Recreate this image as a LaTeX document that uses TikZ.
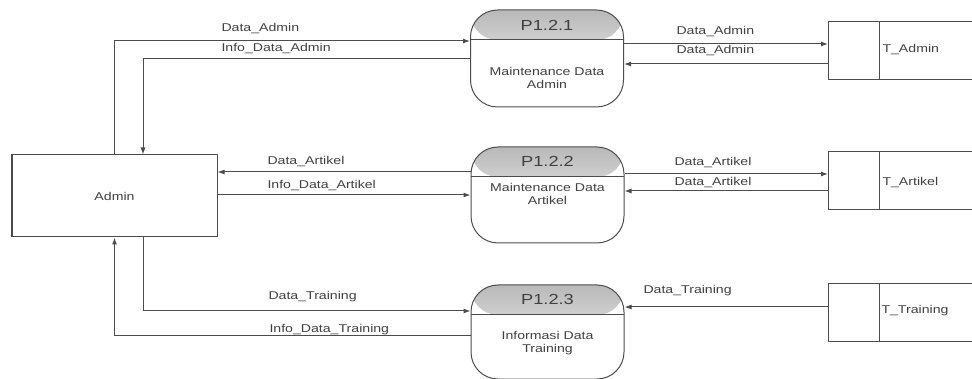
\documentclass[tikz,border=0pt]{standalone}
\usepackage{fontspec}
\setmainfont[FakeStretch=1.25]{Liberation Sans}
\usetikzlibrary{
		arrows.meta,
		calc
	}
\tikzset{
		>={Latex[length=7pt,width=5pt]}
	}

\begin{document}
\begin{tikzpicture}
		[x=1pt, y=-1pt, line width=1pt, black!70,
		every node/.style= {font=\fontsize{11.3}{13}\selectfont, text=black!75},
		flow/.style= {->, line width=1pt, black!70},
		lbl/.style= {anchor=west, inner sep=0pt},
		entity/.style= {draw, line width=1pt, minimum width=205pt, minimum height=82pt},
		proc/.style= {draw, rounded corners=27pt, minimum width=153pt, line width=1pt,
			path picture={
				\shade[top color=gray!55, bottom color=white] (path picture bounding box.north west) rectangle ([yshift=-30pt]path picture bounding box.north east);
				\draw[line width=1pt] ([yshift=-30pt]path picture bounding box.north west) -- ([yshift=-30pt]path picture bounding box.north east);
			}},
		title/.style= {font=\fontsize{14.6}{16}\selectfont, inner sep=0pt},
		body/.style= {align=center, inner sep=0pt},
		store/.style= {anchor=west, minimum width=144pt, minimum height=57pt, inner sep=0pt}
		]
		\useasboundingbox (0,0) rectangle (972,379);

		% external entity
		\node [entity] (admin) at (114.5,196) {Admin};
		\draw [line width=2pt] (admin.north west) -- (admin.south west);

		% processes
		\node [proc, minimum height=97pt] (p1) at (547,58.5) {};
			\node [title] (p1t) at (547,25) {P1.2.1};
			\node [body] (p1b) at (547,77.5) {Maintenance Data\\Admin};
		\node [proc, minimum height=96pt] (p2) at (547.5,195) {};
			\node [title] (p2t) at (547.5,161.5) {P1.2.2};
			\node [body] (p2b) at (547.5,193.5) {Maintenance Data\\Artikel};
		\node [proc, minimum height=94pt] (p3) at (547.5,332) {};
			\node [title] (p3t) at (547.5,299.5) {P1.2.3};
			\node [body] (p3b) at (547.5,343.5) {Informasi Data\\Training};

		% data stores
		\node [store] (sA) at (828,50.5) {};
		\node [store] (sB) at (828,181) {};
		\node [store] (sC) at (828,313) {};
		\draw (sA.north east) -- (sA.north west) -- (sA.south west) -- (sA.south east);
		\draw ([xshift=51pt]sA.north west) -- ([xshift=51pt]sA.south west);
		\draw (sB.north east) -- (sB.north west) -- (sB.south west) -- (sB.south east);
		\draw ([xshift=51pt]sB.north west) -- ([xshift=51pt]sB.south west);
		\draw (sC.north east) -- (sC.north west) -- (sC.south west) -- (sC.south east);
		\draw ([xshift=51pt]sC.north west) -- ([xshift=51pt]sC.south west);
		\node [lbl] (tA) at (882,50) {T\_Admin};
		\node [lbl] (tB) at (882,183) {T\_Artikel};
		\node [lbl] (tC) at (881,311) {T\_Training};

		% flows admin <-> processes
		\draw [flow] (admin.north) |- (p1.west |- 0,41);
		\draw [flow] (p1.west |- 0,59) -| (admin.north -| 143,0);
		\draw [flow] (p2.west |- 0,172) -- (admin.east |- 0,172);
		\draw [flow] (admin.east |- 0,195) -- (p2.west |- 0,195);
		\draw [flow] (admin.south -| 143,0) |- (p3.west |- 0,311);
		\draw [flow] (p3.west |- 0,336) -| (admin.south);

		\node [lbl] (l1) at (221,29) {Data\_Admin};
		\node [lbl] (l2) at (221,49) {Info\_Data\_Admin};
		\node [lbl] (l3) at (267,162) {Data\_Artikel};
		\node [lbl] (l4) at (267,186) {Info\_Data\_Artikel};
		\node [lbl] (l5) at (268,297) {Data\_Training};
		\node [lbl] (l6) at (269,330) {Info\_Data\_Training};

		% flows processes <-> stores
		\draw [flow] (p1.east |- 0,44) -- (sA.west |- 0,44);
		\draw [flow] (sA.west |- 0,64) -- (p1.east |- 0,64);
		\draw [flow] (p2.east |- 0,174) -- (sB.west |- 0,174);
		\draw [flow] (sB.west |- 0,191) -- (p2.east |- 0,191);
		\draw [flow] (sC.west |- 0,307) -- (p3.east |- 0,307);

		\node [lbl] (r1) at (676,32) {Data\_Admin};
		\node [lbl] (r2) at (676,51) {Data\_Admin};
		\node [lbl] (r3) at (674,163) {Data\_Artikel};
		\node [lbl] (r4) at (674,183) {Data\_Artikel};
		\node [lbl] (r5) at (643,291) {Data\_Training};

	\end{tikzpicture}
\end{document}
